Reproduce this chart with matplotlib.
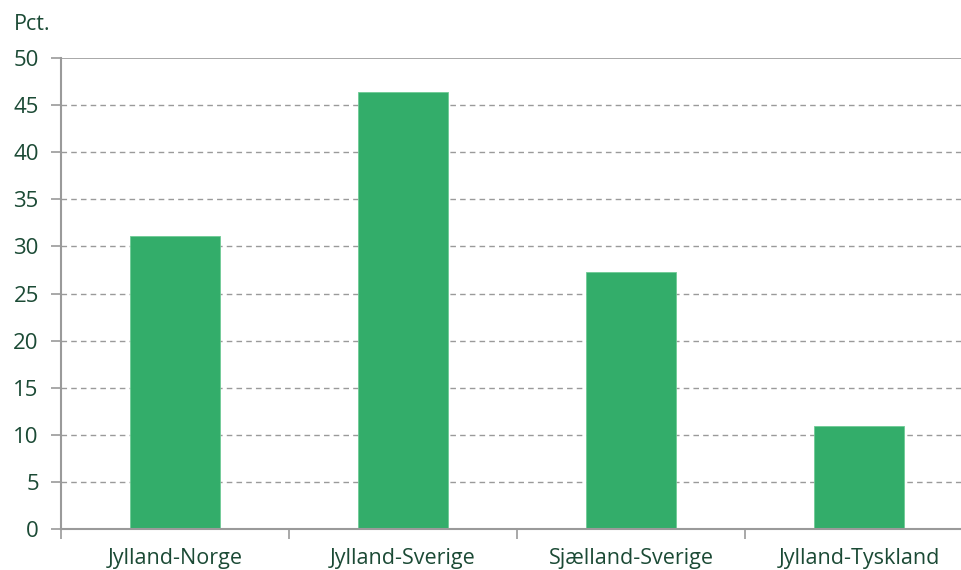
import matplotlib
matplotlib.use("Agg")
import matplotlib.pyplot as plt

categories = ["Jylland-Norge", "Jylland-Sverige", "Sjælland-Sverige", "Jylland-Tyskland"]
values = [31.1, 46.4, 27.3, 10.9]
yticks = [0, 5, 10, 15, 20, 25, 30, 35, 40, 45, 50]

text_color = "#1b4a35"
bar_color = "#33ad6a"
grid_color = "#9a9a9a"

plt.rcParams["font.family"] = ["Open Sans", "DejaVu Sans"]

fig = plt.figure(figsize=(9.62, 5.70), dpi=100)
ax = fig.add_axes([61 / 962, 41 / 570, 912 / 962, 471 / 570])

x = list(range(len(categories)))
ax.bar(x, values, width=0.395, color=bar_color, edgecolor="#6fcb95", linewidth=0.6, zorder=3)

ax.set_xlim(-0.5, len(categories) - 0.5)
ax.set_ylim(0, 50)
ax.set_yticks(yticks)
ax.set_yticklabels([str(v) for v in yticks])

for v in yticks[1:-1]:
    ax.axhline(v, color=grid_color, linestyle=(0, (4, 3)), linewidth=1.0, zorder=1)
ax.axhline(50, color=grid_color, linewidth=1.2, zorder=1)

ax.set_xticks(x)
ax.set_xticklabels(categories)
ax.set_xticks([i - 0.5 for i in range(len(categories) + 1)], minor=True)
ax.tick_params(axis="x", which="major", length=0, pad=14, labelsize=15.5, labelcolor=text_color)
ax.tick_params(axis="x", which="minor", length=7, width=1.2, color=grid_color)
ax.tick_params(axis="y", length=7, width=1.2, color=grid_color, pad=9, labelsize=16, labelcolor=text_color)

for s in ["top", "right"]:
    ax.spines[s].set_visible(False)
for s in ["left", "bottom"]:
    ax.spines[s].set_color(grid_color)
    ax.spines[s].set_linewidth(1.5)
ax.spines["bottom"].set_zorder(4)

fig.text(14 / 962, 1 - 24 / 570, "Pct.", color=text_color, fontsize=15.5, va="center", ha="left")

fig.savefig("out.png", dpi=100)
